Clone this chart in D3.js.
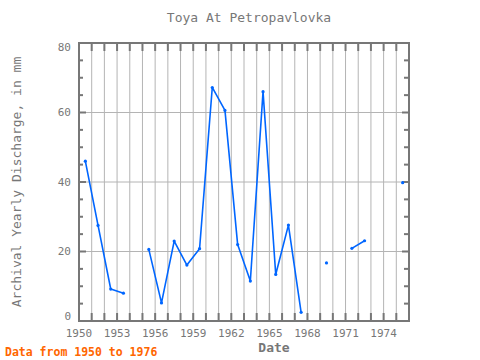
<!DOCTYPE html>
<html>
<head>
<meta charset="utf-8">
<script src="https://cdn.jsdelivr.net/npm/d3@7"></script>
<style>
  html, body { margin: 0; padding: 0; background: #fff; }
  svg { display: block; }
  text { font-family: "DejaVu Sans Mono", "Liberation Mono", monospace; }
</style>
</head>
<body>
<svg id="chart" width="480" height="360"></svg>
<script>
// ---- data ----
const years = [1950, 1951, 1952, 1953, 1954, 1955, 1956, 1957, 1958, 1959,
               1960, 1961, 1962, 1963, 1964, 1965, 1966, 1967, 1968, 1969,
               1970, 1971, 1972, 1973, 1974, 1975];
const discharge = [46.0, 27.5, 9.2, 8.0, null, 20.6, 5.2, 23.0, 16.1, 20.8,
                   67.2, 60.6, 22.0, 11.5, 66.0, 13.4, 27.6, 2.5, null, 16.7,
                   null, 20.9, 23.1, null, null, 39.8];
const xTickLabels = [1950, 1953, 1956, 1959, 1962, 1965, 1968, 1971, 1974];
const yTickLabels = [0, 20, 40, 60, 80];

const title = "Toya At Petropavlovka";
const yTitle = "Archival Yearly Discharge, in mm";
const xTitle = "Date";
const note = "Data from 1950 to 1976";

// ---- layout ----
const svg = d3.select("#chart");
const pL = 79, pR = 409, pT = 43, pB = 321;
const gray = "#777";
const gridColor = "#b4b4b4";
const lineColor = "#0066ff";

const x = d3.scaleLinear().domain([1950, 1976]).range([pL, pR]);
const y = d3.scaleLinear().domain([0, 80]).range([pB, pT]);

const data = years.map((yr, i) => ({ year: yr, value: discharge[i] }));

// grid
const g = svg.append("g");
g.selectAll("line.vgrid").data(d3.range(1951, 1976)).enter().append("line")
  .attr("x1", d => x(d)).attr("x2", d => x(d))
  .attr("y1", pT).attr("y2", pB)
  .attr("stroke", gridColor).attr("stroke-width", 1);
g.selectAll("line.hgrid").data(yTickLabels.filter(v => v > 0 && v < 80)).enter().append("line")
  .attr("x1", pL).attr("x2", pR)
  .attr("y1", d => y(d)).attr("y2", d => y(d))
  .attr("stroke", gridColor).attr("stroke-width", 1);

// ticks (inward)
const yearTicks = d3.range(1951, 1976);
g.selectAll("line.tt").data(yearTicks).enter().append("line")
  .attr("x1", d => x(d)).attr("x2", d => x(d))
  .attr("y1", pT).attr("y2", pT + 8)
  .attr("stroke", gray).attr("stroke-width", 2);
g.selectAll("line.bt").data(yearTicks).enter().append("line")
  .attr("x1", d => x(d)).attr("x2", d => x(d))
  .attr("y1", pB).attr("y2", pB - 8)
  .attr("stroke", gray).attr("stroke-width", 2);
const yMinor = d3.range(5, 80, 5);
g.selectAll("line.lt").data(yMinor).enter().append("line")
  .attr("x1", pL).attr("x2", d => pL + (d % 20 === 0 ? 7 : 4))
  .attr("y1", d => y(d)).attr("y2", d => y(d))
  .attr("stroke", gray).attr("stroke-width", 2);
g.selectAll("line.rt").data(yMinor).enter().append("line")
  .attr("x1", pR).attr("x2", d => pR - (d % 20 === 0 ? 7 : 5))
  .attr("y1", d => y(d)).attr("y2", d => y(d))
  .attr("stroke", gray).attr("stroke-width", 2);

// frame
svg.append("rect")
  .attr("x", pL).attr("y", pT)
  .attr("width", pR - pL).attr("height", pB - pT)
  .attr("fill", "none").attr("stroke", gray).attr("stroke-width", 2);

// y labels
svg.selectAll("text.yl").data(yTickLabels).enter().append("text")
  .attr("x", pL - 8)
  .attr("y", d => Math.min(Math.max(y(d), pT + 4), pB - 4.5))
  .attr("dy", "0.35em")
  .attr("text-anchor", "end")
  .attr("font-size", 11).attr("fill", gray)
  .text(d => d);

// x labels
svg.selectAll("text.xl").data(xTickLabels).enter().append("text")
  .attr("x", d => x(d))
  .attr("y", 337)
  .attr("text-anchor", "middle")
  .attr("font-size", 11).attr("fill", gray)
  .text(d => d);

// line
const line = d3.line()
  .defined(d => d.value !== null)
  .x(d => x(d.year + 0.5))
  .y(d => y(d.value));
svg.append("path").datum(data)
  .attr("d", line)
  .attr("fill", "none").attr("stroke", lineColor)
  .attr("stroke-width", 1.6).attr("stroke-linejoin", "round");

svg.selectAll("circle.pt").data(data.filter(d => d.value !== null)).enter().append("circle")
  .attr("cx", d => x(d.year + 0.5))
  .attr("cy", d => y(d.value))
  .attr("r", 1.6)
  .attr("fill", lineColor);

// titles
svg.append("text").attr("x", 249).attr("y", 22)
  .attr("text-anchor", "middle").attr("font-size", 13).attr("fill", gray)
  .text(title);
svg.append("text")
  .attr("transform", `translate(21, ${(pT + pB) / 2}) rotate(-90)`)
  .attr("text-anchor", "middle").attr("font-size", 13).attr("fill", gray)
  .text(yTitle);
svg.append("text").attr("x", 274).attr("y", 352)
  .attr("text-anchor", "middle").attr("font-size", 13).attr("font-weight", "bold").attr("fill", gray)
  .text(xTitle);
svg.append("text").attr("x", 5).attr("y", 356)
  .attr("font-size", 11.5).attr("font-weight", "bold").attr("fill", "#ff6600")
  .text(note);
</script>
</body>
</html>
